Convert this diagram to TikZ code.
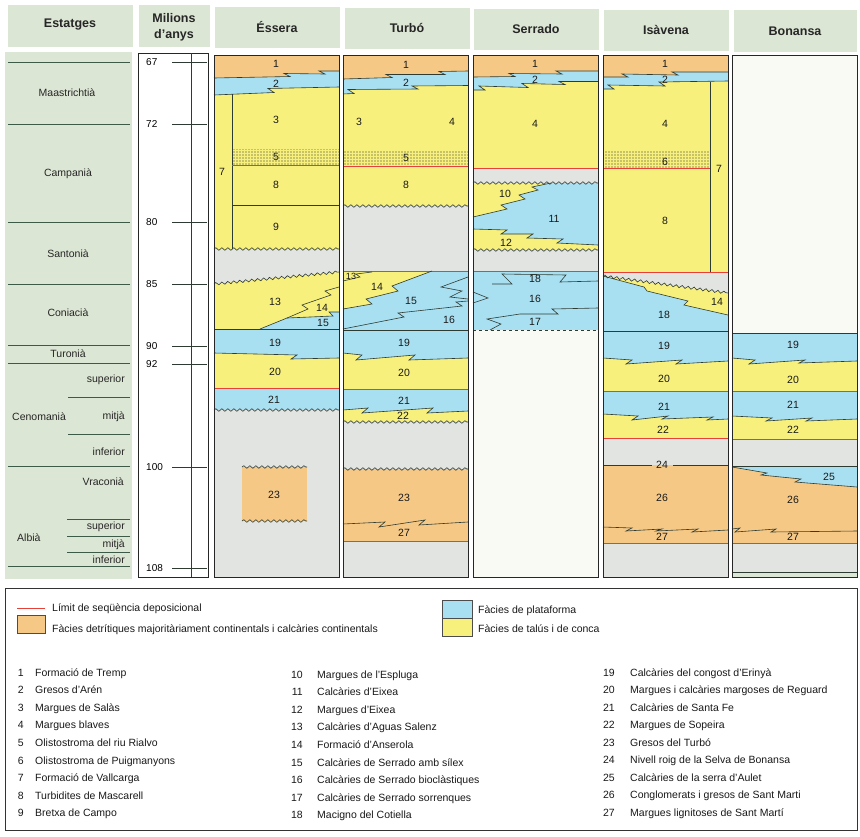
\documentclass[tikz,border=0pt]{standalone}
\usepackage{fontspec}
\setmainfont{Liberation Sans}
\usetikzlibrary{patterns.meta,decorations.pathmorphing}
\definecolor{orng}{HTML}{F5C886}
\definecolor{blu}{HTML}{A8E0F2}
\definecolor{yel}{HTML}{F8F07C}
\definecolor{gry}{HTML}{E2E4E1}
\definecolor{blank}{HTML}{FAFAF4}
\definecolor{hdr}{HTML}{DCE6D4}
\definecolor{redl}{HTML}{E5403A}
\definecolor{lc}{HTML}{2E3B33}
\definecolor{stl}{HTML}{3C5A48}
\newcommand\tw{6}
% Essera boundaries
\def\pEA{(214,78) -- (290,76.5) -- ++(-\tw,-3) -- (325,74) -- ++(-\tw,-3) -- (339,71)}
\def\pEB{(214,95) -- (274,92.5) -- ++(-\tw,-4) -- (339,87)}
\def\pEC{(214,353) -- (297,355) -- ++(-\tw,4) -- (339,358)}
% Turbo
\def\pTA{(343,79) -- (392,77.5) -- ++(-\tw,-3) -- (445,74.5) -- ++(-\tw,-3) -- (468,71)}
\def\pTB{(343,94) -- (354,93.5) -- ++(-\tw,-4) -- (418,89) -- ++(-\tw,-3) -- (468,85.5)}
\def\pTC{(343,309) -- (372,304) -- ++(-\tw,-5) -- (398,291) -- ++(-\tw,-5) -- (432,271)}
\def\pTD{(343,353) -- (362,355) -- ++(-\tw,5) -- (415,355) -- ++(-\tw,5) -- (468,358)}
\def\pTE{(343,410) -- (368,408) -- ++(-\tw,5) -- (433,408) -- ++(-\tw,5) -- (468,411)}
\def\pTF{(343,524) -- (385,522) -- ++(-\tw,5) -- (425,520) -- ++(-\tw,5) -- (468,522)}
% Serrado
\def\pSA{(473,77) -- (515,76.5) -- ++(-\tw,-3) -- (562,74) -- ++(-\tw,-3) -- (598,71)}
\def\pSB{(473,90) -- (485,90) -- ++(-\tw,-4) -- (528,87.5) -- ++(-\tw,-4) -- (565,84.5) -- ++(-\tw,-3) -- (598,81.5)}
\def\pSC{(473,217) -- (507,209) -- ++(-\tw,-4) -- (525,199) -- ++(-\tw,-4) -- (538,190) -- ++(-\tw,-3) -- (551,183)}
\def\pSD{(473,229) -- (507,230) -- ++(-\tw,4) -- (533,234) -- ++(-\tw,4) -- (563,239) -- ++(-\tw,4) -- (598,245)}
% Isavena
\def\pIA{(603,77) -- (628,77) -- ++(-\tw,-3) -- (678,75) -- ++(-\tw,-3) -- (728,72)}
\def\pIB{(603,89) -- (614,89) -- ++(-\tw,-4) -- (665,86) -- ++(-\tw,-4) -- (728,81)}
\def\pIC{(603,276) -- (644,287) -- (647,291) -- (688,301) -- (684,305) -- (728,315)}
\def\pID{(603,358) -- (632,360) -- ++(-\tw,4) -- (682,360) -- ++(-\tw,4) -- (728,361)}
\def\pIE{(603,414) -- (638,416) -- ++(-\tw,4) -- (668,416) -- ++(-\tw,3) -- (713,417) -- ++(-\tw,3) -- (728,419)}
\def\pIF{(603,527) -- (632,528) -- ++(-\tw,3) -- (662,529) -- ++(-\tw,2) -- (698,529) -- ++(-\tw,3) -- (728,530)}
% Bonansa
\def\pBA{(732,358) -- (755,360) -- ++(-\tw,4) -- (805,360) -- ++(-\tw,3) -- (857,361)}
\def\pBB{(732,416) -- (772,418) -- ++(-\tw,3) -- (812,418) -- ++(-\tw,3) -- (857,419)}
\def\pBC{(732,467) -- (767,473) -- ++(-\tw,2) -- (801,479) -- ++(-\tw,3) -- (857,487)}
\def\pBD{(732,529) -- (740,528) -- ++(-5,4) -- (776,529) -- ++(-5,3) -- (857,531)}
\begin{document}
\begin{tikzpicture}[x=1pt,y=-1pt,
  bnd/.style={draw=lc,line width=0.6pt},
  rl/.style={draw=redl,line width=0.8pt},
  wav/.style={draw=lc,line width=0.6pt,decorate,decoration={snake,segment length=6pt,amplitude=1.3pt}},
  stip/.style={pattern={Dots[radius=0.6pt,distance=3pt]},pattern color=black!85},
  num/.style={font=\fontsize{10.5}{12}\selectfont,inner sep=0pt,text=black!90},
  colbox/.style={draw=black!85,line width=0.8pt},
  hdrtxt/.style={font=\bfseries\fontsize{12.5}{14}\selectfont,text=black!85,align=center},
  stg/.style={font=\fontsize{10.5}{12}\selectfont,inner sep=0pt,text=black!85},
  leg/.style={font=\fontsize{10.5}{12}\selectfont,inner sep=0pt,anchor=base west,text=black!90},
  legn/.style={font=\fontsize{10.5}{12}\selectfont,inner sep=0pt,anchor=base east,text=black!90},
]
\useasboundingbox[fill=white] (0,0) rectangle (860,836);

% ---------- headers ----------
\fill[hdr] (8,5) rectangle (133,47);
\fill[hdr] (139,5) rectangle (210,47);
\fill[hdr] (215,7) rectangle (340,48);
\fill[hdr] (345,8) rectangle (470,49);
\fill[hdr] (474,9) rectangle (599,50);
\fill[hdr] (604,10) rectangle (729,51);
\fill[hdr] (734,10) rectangle (857,52);
\node[hdrtxt] (hEst) at (70,25) {Estatges};
\node[hdrtxt,font=\bfseries\fontsize{12.5}{16}\selectfont] (hMil) at (174,27) {Milions\\d'anys};
\node[hdrtxt] (hEss) at (277,27) {Éssera};
\node[hdrtxt] (hTur) at (407,28) {Turbó};
\node[hdrtxt] (hSer) at (536,29) {Serrado};
\node[hdrtxt] (hIsa) at (666,30) {Isàvena};
\node[hdrtxt] (hBon) at (795,31) {Bonansa};

% ---------- Estatges ----------
\fill[hdr] (5,52) rectangle (132,579);
\foreach \yy in {62,124,222,284,345,363,466,566} \draw[stl,line width=0.8pt] (8,\yy) -- (130,\yy);
\foreach \yy in {397,434} \draw[stl,line width=0.8pt] (68,\yy) -- (130,\yy);
\foreach \yy in {519,536,552} \draw[stl,line width=0.8pt] (67,\yy) -- (130,\yy);
\node[stg] (sMaa) at (67,93) {Maastrichtià};
\node[stg] (sCam) at (68,174) {Campanià};
\node[stg] (sSan) at (68,254) {Santonià};
\node[stg] (sCon) at (68,313) {Coniacià};
\node[stg] (sTur) at (68,354) {Turonià};
\node[stg,anchor=east] (sCs) at (125,380) {superior};
\node[stg,anchor=west] (sCen) at (12,417) {Cenomanià};
\node[stg,anchor=east] (sCm) at (125,417) {mitjà};
\node[stg,anchor=east] (sCi) at (125,452) {inferior};
\node[stg,anchor=east] (sVra) at (124,482) {Vraconià};
\node[stg,anchor=west] (sAlb) at (17,538) {Albià};
\node[stg,anchor=east] (sAs) at (125,527) {superior};
\node[stg,anchor=east] (sAm) at (125,545) {mitjà};
\node[stg,anchor=east] (sAi) at (125,560) {inferior};

% ---------- Milions d'anys ----------
\filldraw[fill=white,draw=black!85,line width=0.8pt] (138,53) rectangle (208,577);
\draw[lc,line width=0.6pt] (191,53) -- (191,577);
\foreach \a/\yy in {67/62,72/124,80/222,85/284,90/346,92/364,100/467,108/568}{
  \draw[lc,line width=0.6pt] (172,\yy) -- (207,\yy);
  \node[anchor=west,inner sep=0pt,font=\fontsize{10}{12}\selectfont] (age\a) at (146,\yy) {\a};
}

% ---------- Essera ----------
\fill[gry] (214,55) rectangle (339,577);
\fill[blu] (214,55) rectangle (339,410);
\fill[yel] (214,55) rectangle (339,388);
\fill[blu] \pEC -- (339,55) -- (214,55) -- cycle;
\fill[yel] (214,55) rectangle (339,329);
\fill[blu] (260,329) -- (287,318) -- (333,316) -- ++(-4,-4) -- (339,312) -- (339,329) -- cycle;
\fill[gry] (214,284) -- (339,272) -- (339,55) -- (214,55) -- cycle;
\fill[yel] (214,55) rectangle (339,249);
\fill[blu] \pEB -- (339,55) -- (214,55) -- cycle;
\fill[orng] \pEA -- (339,55) -- (214,55) -- cycle;
\fill[stip] (232,149) rectangle (339,165);
\fill[orng] (242,467) rectangle (307,521);
\draw[bnd] \pEA;
\draw[bnd] \pEB;
\draw[bnd] (232,94) -- (232,249);
\draw[rl] (232,165) -- (339,165);
\draw[bnd] (232,205) -- (339,205);
\draw[wav] (214,249) -- (339,249);
\draw[wav] (214,284) -- (339,272);
\draw[bnd] (260,329) -- (287,318) -- (308,309) -- ++(-\tw,-4) -- (331,295) -- ++(-\tw,-4) -- (339,287);
\draw[bnd] (287,318) -- (333,316) -- ++(-4,-4) -- (339,312);
\draw[bnd] (214,329) -- (339,329);
\draw[bnd] \pEC;
\draw[rl] (214,388) -- (339,388);
\draw[wav] (214,410) -- (339,410);
\draw[wav] (242,467) -- (307,467);
\draw[wav] (242,521) -- (307,521);
\draw[colbox] (214,55) rectangle (339,577);
\foreach \n/\xx/\yy in {1/276/64,2/276/84,3/276/120,5/276/157,7/222/172,8/276/185,9/276/227,13/275/302,14/322/308,15/323/323,19/275/343,20/275/372,21/274/400,23/274/495}
  \node[num] (E\n) at (\xx,\yy) {\n};

% ---------- Turbo ----------
\fill[gry] (343,55) rectangle (468,577);
\fill[orng] (343,55) rectangle (468,541);
\fill[gry] (343,55) rectangle (468,469);
\fill[yel] (343,55) rectangle (468,422);
\fill[blu] \pTE -- (468,55) -- (343,55) -- cycle;
\fill[yel] (343,55) rectangle (468,389);
\fill[blu] \pTD -- (468,55) -- (343,55) -- cycle;
\fill[yel] \pTC -- (343,271) -- cycle;
\fill[gry] (343,55) rectangle (468,271);
\fill[yel] (343,55) rectangle (468,206);
\fill[blu] \pTB -- (468,55) -- (343,55) -- cycle;
\fill[orng] \pTA -- (468,55) -- (343,55) -- cycle;
\fill[stip] (343,150) rectangle (468,166);
\draw[bnd] \pTA;
\draw[bnd] \pTB;
\draw[rl] (343,166) -- (468,166);
\draw[wav] (343,206) -- (468,206);
\draw[rl] (343,271) -- (468,271);
\draw[bnd] \pTC;
\draw[bnd] (343,281) -- (360,277) -- ++(-4,-3) -- (372,272);
\draw[bnd] (343,329) -- (404,317) -- ++(-\tw,-4) -- (462,306) -- ++(-\tw,-4) -- (468,301);
\draw[bnd] (468,277) -- (441,287) -- (462,291) -- (450,297) -- (468,299);
\draw[bnd] (343,330) -- (468,330);
\draw[bnd] \pTD;
\draw[rl] (343,389) -- (468,389);
\draw[bnd] \pTE;
\draw[wav] (343,422) -- (468,422);
\draw[wav] (343,469) -- (468,469);
\draw[bnd] \pTF;
\draw[rl] (343,541) -- (468,541);
\draw[colbox] (343,55) rectangle (468,577);
\foreach \n/\xx/\yy in {1/406/65,2/406/83,3/359/122,4/452/122,5/406/158,8/406/185,14/377/287,15/411/301,16/449/320,19/404/343,20/404/373,21/404/401,22/403/416,23/404/498,27/404/533}
  \node[num] (T\n) at (\xx,\yy) {\n};
\node[num,font=\fontsize{9}{10}\selectfont] (T13) at (351,276) {13};

% ---------- Serrado ----------
\fill[blank] (473,55) rectangle (598,577);
\fill[blu] (473,55) rectangle (598,330);
\fill[gry] (473,55) rectangle (598,271);
\fill[yel] (473,55) rectangle (598,250);
\fill[blu] \pSD -- (598,55) -- (473,55) -- cycle;
\fill[yel] \pSC -- (473,183) -- cycle;
\fill[gry] (473,55) rectangle (598,183);
\fill[yel] (473,55) rectangle (598,168);
\fill[blu] \pSB -- (598,55) -- (473,55) -- cycle;
\fill[orng] \pSA -- (598,55) -- (473,55) -- cycle;
\draw[bnd] \pSA;
\draw[bnd] \pSB;
\draw[rl] (473,168) -- (598,168);
\draw[wav] (473,183) -- (598,183);
\draw[bnd] \pSC;
\draw[bnd] \pSD;
\draw[wav] (473,250) -- (598,250);
\draw[rl] (473,271) -- (598,271);
\draw[bnd] (492,284) -- (512,284) -- (502,274) -- (566,275) -- ++(-\tw,7) -- (598,281);
\draw[bnd] (473,292) -- (488,298) -- (473,303);
\draw[bnd] (490,330) -- (501,324) -- (487,319) -- (520,314) -- (558,314) -- ++(-\tw,-5) -- (598,308);
\draw[bnd,dashed] (473,330) -- (598,330);
\draw[colbox] (473,55) rectangle (598,577);
\foreach \n/\xx/\yy in {1/535/64,2/535/80,4/535/124,10/505/194,11/554/219,12/506/243,18/535/279,16/535/299,17/535/322}
  \node[num] (S\n) at (\xx,\yy) {\n};

% ---------- Isavena ----------
\fill[gry] (603,55) rectangle (728,577);
\fill[orng] (603,55) rectangle (728,543);
\fill[gry] (603,55) rectangle (728,465);
\fill[yel] (603,55) rectangle (728,438);
\fill[blu] \pIE -- (728,55) -- (603,55) -- cycle;
\fill[yel] (603,55) rectangle (728,391);
\fill[blu] \pID -- (728,55) -- (603,55) -- cycle;
\fill[yel] \pIC -- (728,55) -- (603,55) -- cycle;
\fill[gry] (603,276) -- (728,293) -- (728,55) -- (603,55) -- cycle;
\fill[yel] (603,55) rectangle (728,272);
\fill[blu] \pIB -- (728,55) -- (603,55) -- cycle;
\fill[orng] \pIA -- (728,55) -- (603,55) -- cycle;
\fill[stip] (603,151) rectangle (710,168);
\draw[bnd] \pIA;
\draw[bnd] \pIB;
\draw[bnd] (710,82) -- (710,272);
\draw[rl] (603,168) -- (710,168);
\draw[rl] (603,272) -- (728,272);
\draw[wav] (603,276) -- (728,293);
\draw[bnd] \pIC;
\draw[bnd] (603,331) -- (728,331);
\draw[bnd] \pID;
\draw[rl] (603,391) -- (728,391);
\draw[bnd] \pIE;
\draw[rl] (603,438) -- (728,438);
\draw[bnd] (603,465) -- (652,465);
\draw[bnd] (673,465) -- (728,465);
\draw[bnd] \pIF;
\draw[rl] (603,543) -- (728,543);
\draw[colbox] (603,55) rectangle (728,577);
\foreach \n/\xx/\yy in {1/665/64,2/665/80,4/665/124,6/665/162,7/719/169,8/665/221,14/717/302,18/664/315,19/664/346,20/664/379,21/664/407,22/663/430,24/662/465,26/662/498,27/662/537}
  \node[num] (I\n) at (\xx,\yy) {\n};

% ---------- Bonansa ----------
\fill[blank] (732,55) rectangle (857,577);
\fill[gry] (732,333) rectangle (857,572);
\fill[hdr] (732,572) rectangle (857,577);
\fill[orng] (732,466) rectangle (857,543);
\fill[blu] \pBC -- (857,466) -- (732,466) -- cycle;
\fill[yel] (732,333) rectangle (857,439);
\fill[blu] \pBB -- (857,391) -- (732,391) -- cycle;
\fill[blu] \pBA -- (857,333) -- (732,333) -- cycle;
\draw[bnd] (732,333) -- (857,333);
\draw[bnd] \pBA;
\draw[rl] (732,391) -- (857,391);
\draw[bnd] \pBB;
\draw[rl] (732,439) -- (857,439);
\draw[bnd] (732,466) -- (857,466);
\draw[bnd] \pBC;
\draw[bnd] \pBD;
\draw[rl] (732,543) -- (857,543);
\draw[bnd] (732,572) -- (857,572);
\draw[colbox] (732,55) rectangle (857,577);
\foreach \n/\xx/\yy in {19/793/345,20/793/380,21/793/405,22/793/430,25/829/477,26/793/500,27/793/537}
  \node[num] (B\n) at (\xx,\yy) {\n};

% ---------- Legend ----------
\draw[black!80,line width=0.8pt] (5,588) rectangle (857,830);
\draw[rl] (17,608) -- (45,608);
\node[leg] (lLim) at (52,611) {Límit de seqüència deposicional};
\filldraw[fill=orng,draw=black!70,line width=0.5pt] (17,615) rectangle (45,633);
\node[leg] (lDet) at (52,632) {Fàcies detrítiques majoritàriament continentals i calcàries continentals};
\filldraw[fill=blu,draw=black!70,line width=0.5pt] (442,600) rectangle (472,618);
\filldraw[fill=yel,draw=black!70,line width=0.5pt] (442,618) rectangle (472,636);
\node[leg] (lPla) at (478,613) {Fàcies de plataforma};
\node[leg] (lTal) at (478,632) {Fàcies de talús i de conca};

\foreach \i/\t in {1/Formació de Tremp,2/Gresos d'Arén,3/Margues de Salàs,4/Margues blaves,5/Olistostroma del riu Rialvo,6/Olistostroma de Puigmanyons,7/Formació de Vallcarga,8/Turbidites de Mascarell,9/Bretxa de Campo}{
  \pgfmathsetmacro\yb{676+17.6*(\i-1)}
  \node[legn] (ln\i) at (24,\yb) {\i};
  \node[leg] (lt\i) at (35,\yb) {\t};
}
\foreach \i/\t in {10/Margues de l'Espluga,11/Calcàries d'Eixea,12/Margues d'Eixea,13/Calcàries d'Aguas Salenz,14/Formació d'Anserola,15/Calcàries de Serrado amb sílex,16/Calcàries de Serrado bioclàstiques,17/Calcàries de Serrado sorrenques,18/Macigno del Cotiella}{
  \pgfmathsetmacro\yb{678+17.6*(\i-10)}
  \node[legn] (ln\i) at (303,\yb) {\i};
  \node[leg] (lt\i) at (317,\yb) {\t};
}
\foreach \i/\t in {19/Calcàries del congost d'Erinyà,20/Margues i calcàries margoses de Reguard,21/Calcàries de Santa Fe,22/Margues de Sopeira,23/Gresos del Turbó,24/Nivell roig de la Selva de Bonansa,25/Calcàries de la serra d'Aulet,26/Conglomerats i gresos de Sant Marti,27/Margues lignitoses de Sant Martí}{
  \pgfmathsetmacro\yb{676+17.5*(\i-19)}
  \node[legn] (ln\i) at (615,\yb) {\i};
  \node[leg] (lt\i) at (630,\yb) {\t};
}
\end{tikzpicture}
\end{document}
